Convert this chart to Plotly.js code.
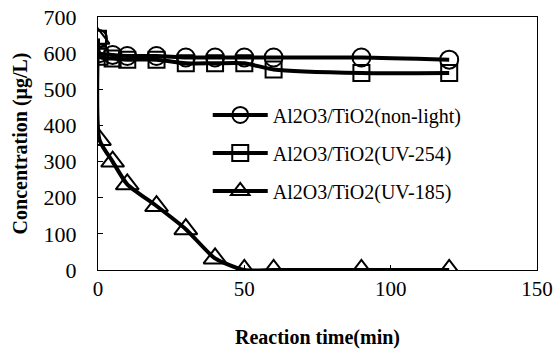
<!DOCTYPE html>
<html>
<head>
<meta charset="utf-8">
<script src="https://cdn.plot.ly/plotly-3.0.1.min.js"></script>
<style>html,body{margin:0;padding:0;background:#fff;}#chart{width:554px;height:354px;}</style>
</head>
<body>
<div id="chart"></div>
<script>
const time = [0, 0.5, 5, 10, 20, 30, 40, 50, 60, 90, 120];
const nonLight = [640, 600, 595, 592, 592, 588, 588, 588, 588, 588, 582];
const uv254 = [640, 590, 585, 582, 582, 572, 572, 572, 555, 545, 545];
const uv185 = [640, 360, 300, 237, 177, 113, 32, 0, 0, 0, 0];
const seriesNames = ['Al2O3/TiO2(non-light)', 'Al2O3/TiO2(UV-254)', 'Al2O3/TiO2(UV-185)'];
const xTicks = [0, 50, 100, 150];
const yTicks = [0, 100, 200, 300, 400, 500, 600, 700];

const font = "'Liberation Serif', 'Times New Roman', serif";
function tr(y, name, sym, size, g) {
  return {
    x: time, y: y, name: name, type: 'scatter', mode: 'lines+markers', legendgroup: g,
    line: {color: '#000', width: 4, shape: 'spline', smoothing: 0.6},
    marker: {symbol: sym, size: size, color: '#000', line: {color: '#000', width: 2}}
  };
}
const data = [
  tr(nonLight, seriesNames[0], 'circle-open', 18, 'a'),
  tr(uv254, seriesNames[1], 'square-open', 16, 'b'),
  tr(uv185, seriesNames[2], 'triangle-up-open', 20, 'c')
];
const layout = {
  width: 554, height: 354,
  margin: {l: 98, r: 17, t: 17, b: 84},
  paper_bgcolor: '#fff', plot_bgcolor: '#fff',
  font: {family: font, size: 20, color: '#000'},
  showlegend: true,
  legend: {x: 0.25, y: 0.69, xanchor: 'left', yanchor: 'top', bgcolor: 'rgba(0,0,0,0)',
           font: {family: font, size: 20}, itemwidth: 55, tracegroupgap: 9, traceorder: 'grouped'},
  xaxis: {
    range: [0, 150], tickvals: xTicks, ticktext: xTicks.map(String),
    showgrid: false, zeroline: false, showline: true, linecolor: '#000', linewidth: 1,
    mirror: true, ticks: 'inside', ticklen: 5, tickcolor: '#000',
    tickfont: {family: font, size: 21},
    title: {text: '<b>Reaction time(min)</b>', font: {family: font, size: 20}, standoff: 29}
  },
  yaxis: {
    range: [0, 700], tickvals: yTicks, ticktext: yTicks.map(String),
    showgrid: false, zeroline: false, showline: true, linecolor: '#000', linewidth: 1,
    mirror: true, ticks: 'inside', ticklen: 5, tickcolor: '#000',
    ticklabelstandoff: 16,
    tickfont: {family: font, size: 22},
    title: {text: '<b>Concentration (μg/L)</b>', font: {family: font, size: 20}, standoff: 10}
  }
};
Plotly.newPlot('chart', data, layout, {staticPlot: true, displayModeBar: false});
</script>
</body>
</html>
